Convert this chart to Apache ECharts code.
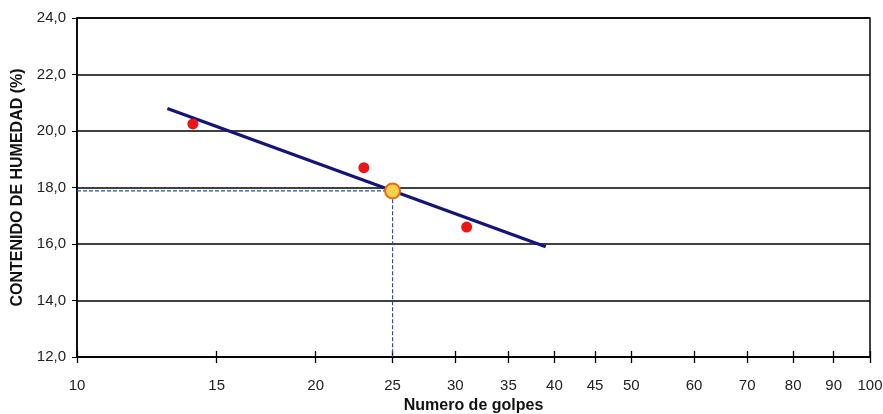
<!DOCTYPE html>
<html>
<head>
<meta charset="utf-8">
<script src="https://cdn.jsdelivr.net/npm/echarts@6/dist/echarts.min.js"></script>
<style>
  html, body { margin: 0; padding: 0; background: #fff; }
  #chart { width: 883px; height: 414px; }
</style>
</head>
<body>
<div id="chart"></div>
<script>
// ensayo: numero de golpes vs contenido de humedad
const golpes = [14, 23, 31];
const humedad = [20.25, 18.7, 16.6];
// recta de ajuste (extremos)
const rectaGolpes = [13, 39];
const rectaHumedad = [20.8, 15.9];
// limite liquido a 25 golpes
const golpesLL = 25;
const limiteLiquido = 17.88;
const xTicks = [10, 15, 20, 25, 30, 35, 40, 45, 50, 60, 70, 80, 90, 100];

const font = 'Liberation Sans, Arial, sans-serif';

let option = {
    backgroundColor: '#fff',
    animation: false,
    grid: {
        left: 77,
        right: 13,
        top: 18,
        bottom: 57,
        outerBoundsMode: 'none',
        containLabel: false,
        show: true,
        borderColor: '#000',
        borderWidth: 1.5
    },
    xAxis: [{
        type: 'log',
        logBase: 10,
        min: 10,
        max: 100,
        name: 'Numero de golpes',
        nameLocation: 'middle',
        nameGap: 41,
        nameTextStyle: { fontFamily: font, fontWeight: 'bold', fontSize: 16, color: '#111' },
        axisLine: { lineStyle: { color: '#000', width: 1.5 } },
        axisTick: { customValues: xTicks, length: 6, lineStyle: { color: '#000', width: 1.3 } },
        minorTick: { show: false },
        splitLine: { show: false },
        axisLabel: {
            customValues: xTicks,
            margin: 21,
            fontFamily: font,
            fontSize: 15,
            color: '#222'
        }
    }, {
        type: 'log',
        logBase: 10,
        min: 10,
        max: 100,
        position: 'bottom',
        axisLine: { show: false },
        axisTick: { show: true, inside: true, customValues: xTicks, length: 6, lineStyle: { color: '#000', width: 1.3 } },
        axisLabel: { show: false },
        splitLine: { show: false }
    }],
    yAxis: {
        type: 'value',
        min: 12,
        max: 24,
        interval: 2,
        name: 'CONTENIDO DE HUMEDAD (%)',
        nameLocation: 'middle',
        nameGap: 50,
        nameTextStyle: { fontFamily: font, fontWeight: 'bold', fontSize: 16, color: '#111' },
        axisLine: { show: true, lineStyle: { color: '#000', width: 1.5 } },
        axisTick: { show: true, length: 5, lineStyle: { color: '#000' } },
        splitLine: { show: true, lineStyle: { color: '#000', width: 1.5 } },
        axisLabel: {
            margin: 11,
            fontFamily: font,
            fontSize: 15,
            color: '#222',
            formatter: v => v.toFixed(1).replace('.', ',')
        }
    },
    series: [
        {
            name: 'guia',
            type: 'line',
            symbol: 'none',
            lineStyle: { color: '#1f4fb0', width: 1.2, type: [4, 2] },
            data: [[10, limiteLiquido], [golpesLL, limiteLiquido], [golpesLL, 12]],
            z: 3
        },
        {
            name: 'recta',
            type: 'line',
            symbol: 'none',
            lineStyle: { color: '#14147a', width: 3.2 },
            data: rectaGolpes.map((g, i) => [g, rectaHumedad[i]]),
            z: 4
        },
        {
            name: 'ensayos',
            type: 'scatter',
            symbolSize: 11,
            itemStyle: { color: '#ec1515', opacity: 1 },
            data: golpes.map((g, i) => [g, humedad[i]]),
            z: 5
        },
        {
            name: 'LL',
            type: 'scatter',
            symbolSize: 15,
            itemStyle: { color: '#f5d24a', borderColor: '#e8681a', borderWidth: 2, opacity: 1 },
            data: [[golpesLL, limiteLiquido]],
            z: 6
        }
    ]
};

let myChart = echarts.init(document.getElementById('chart'));
option && myChart.setOption(option);
</script>
</body>
</html>
